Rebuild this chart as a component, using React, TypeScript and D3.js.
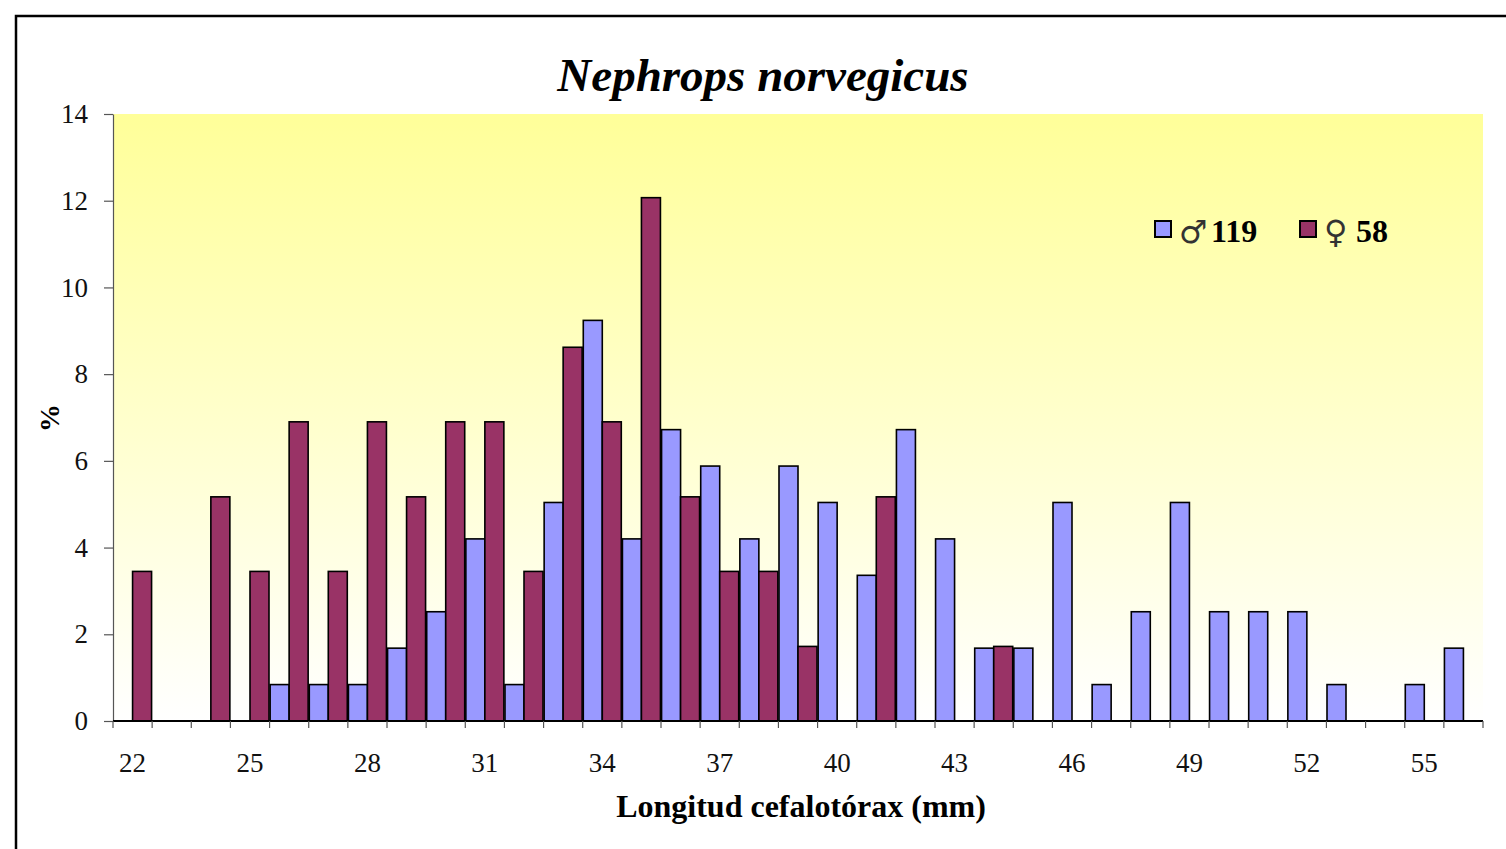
import { useEffect, useRef } from 'react';
import * as d3 from 'd3';

// Longitud cefalotórax (mm)
const lengths = d3.range(22, 57);
const tickLabels = [22, 25, 28, 31, 34, 37, 40, 43, 46, 49, 52, 55];
// % machos (n = 119)
const males = [
  0, 0, 0, 0, 0.84, 0.84, 0.84, 1.68, 2.52, 4.2, 0.84, 5.04, 9.24, 4.2, 6.72, 5.88,
  4.2, 5.88, 5.04, 3.36, 6.72, 4.2, 1.68, 1.68, 5.04, 0.84, 2.52, 5.04, 2.52, 2.52,
  2.52, 0.84, 0, 0.84, 1.68,
];
// % hembras (n = 58)
const females = [
  3.45, 0, 5.17, 3.45, 6.9, 3.45, 6.9, 5.17, 6.9, 6.9, 3.45, 8.62, 6.9, 12.07, 5.17,
  3.45, 3.45, 1.72, 0, 5.17, 0, 0, 1.72, 0, 0, 0, 0, 0, 0, 0, 0, 0, 0, 0, 0,
];
const series = [
  { key: 'm', symbol: '♂', count: '119', color: '#9999FF', values: males },
  { key: 'f', symbol: '♀', count: '58', color: '#993366', values: females },
];

export default function App() {
  const ref = useRef<SVGSVGElement>(null);

  useEffect(() => {
    if (!ref.current) return;
    const svg = d3.select(ref.current);
    svg.selectAll('*').remove();

    const W = 1506;
    const H = 849;
    const plot = { left: 113, right: 1483, top: 114, bottom: 721 };
    const font = '"Liberation Serif", "Times New Roman", serif';

    // Frame
    svg.append('rect')
      .attr('x', 16).attr('y', 16)
      .attr('width', W).attr('height', H)
      .attr('fill', 'white')
      .attr('stroke', 'black')
      .attr('stroke-width', 2.5);

    // Background gradient
    const grad = svg.append('defs').append('linearGradient')
      .attr('id', 'bg').attr('x1', 0).attr('y1', 0).attr('x2', 0).attr('y2', 1);
    grad.append('stop').attr('offset', '0%').attr('stop-color', '#FFFF99');
    grad.append('stop').attr('offset', '100%').attr('stop-color', '#FFFFFF');

    svg.append('rect')
      .attr('x', plot.left).attr('y', plot.top)
      .attr('width', plot.right - plot.left)
      .attr('height', plot.bottom - plot.top)
      .attr('fill', 'url(#bg)');

    // Scales
    const x = d3.scaleBand<number>()
      .domain(lengths)
      .range([plot.left, plot.right])
      .padding(0);
    const x1 = d3.scaleBand<string>()
      .domain(series.map(s => s.key))
      .range([0, x.bandwidth()])
      .paddingInner(0)
      .paddingOuter(0.03);
    const y = d3.scaleLinear().domain([0, 14]).range([plot.bottom, plot.top]);

    // Bars
    series.forEach(s => {
      svg.append('g')
        .selectAll('rect')
        .data(lengths.map((l, i) => ({ l, v: s.values[i] })).filter(d => d.v > 0))
        .enter()
        .append('rect')
        .attr('x', d => (x(d.l) ?? 0) + (x1(s.key) ?? 0))
        .attr('y', d => y(d.v))
        .attr('width', x1.bandwidth())
        .attr('height', d => y(0) - y(d.v))
        .attr('fill', s.color)
        .attr('stroke', 'black')
        .attr('stroke-width', 1.6);
    });

    // Y axis
    const yAxis = svg.append('g')
      .attr('transform', `translate(${plot.left},0)`)
      .call(d3.axisLeft(y).tickValues(d3.range(0, 15, 2)).tickSize(9).tickPadding(16).tickSizeOuter(0));
    yAxis.attr('font-family', font).attr('font-size', 27);
    yAxis.select('.domain').attr('stroke', '#555').attr('stroke-width', 1.2);
    yAxis.selectAll('.tick line').attr('stroke', '#555').attr('stroke-width', 1.2);
    yAxis.selectAll('.tick text')
      .attr('font-family', font)
      .attr('font-size', 27)
      .attr('fill', '#111');

    // X axis
    const xAxis = svg.append('g');
    xAxis.append('line')
      .attr('x1', plot.left).attr('x2', plot.right)
      .attr('y1', plot.bottom).attr('y2', plot.bottom)
      .attr('stroke', 'black').attr('stroke-width', 1.8);
    const boundaries = [...lengths.map(l => x(l) ?? 0), plot.right];
    xAxis.selectAll('line.tick')
      .data(boundaries)
      .enter()
      .append('line')
      .attr('class', 'tick')
      .attr('x1', d => d).attr('x2', d => d)
      .attr('y1', plot.bottom).attr('y2', plot.bottom + 7)
      .attr('stroke', '#555').attr('stroke-width', 1.2);
    xAxis.selectAll('text')
      .data(tickLabels)
      .enter()
      .append('text')
      .attr('x', d => (x(d) ?? 0) + x.bandwidth() / 2)
      .attr('y', 772)
      .attr('text-anchor', 'middle')
      .attr('font-family', font)
      .attr('font-size', 27)
      .attr('fill', '#111')
      .text(d => d);

    // Titles
    svg.append('text')
      .attr('x', 763).attr('y', 91)
      .attr('text-anchor', 'middle')
      .attr('font-family', font)
      .attr('font-size', 47)
      .attr('font-weight', 'bold')
      .attr('font-style', 'italic')
      .text('Nephrops norvegicus');

    svg.append('text')
      .attr('x', 801).attr('y', 817)
      .attr('text-anchor', 'middle')
      .attr('font-family', font)
      .attr('font-size', 32)
      .attr('font-weight', 'bold')
      .text('Longitud cefalotórax (mm)');

    svg.append('text')
      .attr('transform', 'translate(59,418) rotate(-90)')
      .attr('text-anchor', 'middle')
      .attr('font-family', font)
      .attr('font-size', 28)
      .attr('font-weight', 'bold')
      .text('%');

    // Legend
    const legend = svg.append('g').attr('transform', 'translate(1155,221)');
    series.forEach((s, i) => {
      const item = legend.append('g').attr('transform', `translate(${i * 145},0)`);
      item.append('rect')
        .attr('width', 16).attr('height', 16)
        .attr('fill', s.color)
        .attr('stroke', 'black')
        .attr('stroke-width', 2);
      item.append('text')
        .attr('x', 24).attr('y', 22)
        .attr('font-family', '"DejaVu Sans ExtraLight", "DejaVu Sans", sans-serif')
        .attr('font-size', 32)
        .attr('fill', '#333')
        .text(s.symbol);
      item.append('text')
        .attr('x', 56).attr('y', 21)
        .attr('font-family', font)
        .attr('font-size', 32)
        .attr('font-weight', 'bold')
        .text(s.count);
    });
  }, []);

  return (
    <svg
      ref={ref}
      width={1506}
      height={849}
      style={{ position: 'absolute', left: 0, top: 0, background: 'white' }}
    />
  );
}
